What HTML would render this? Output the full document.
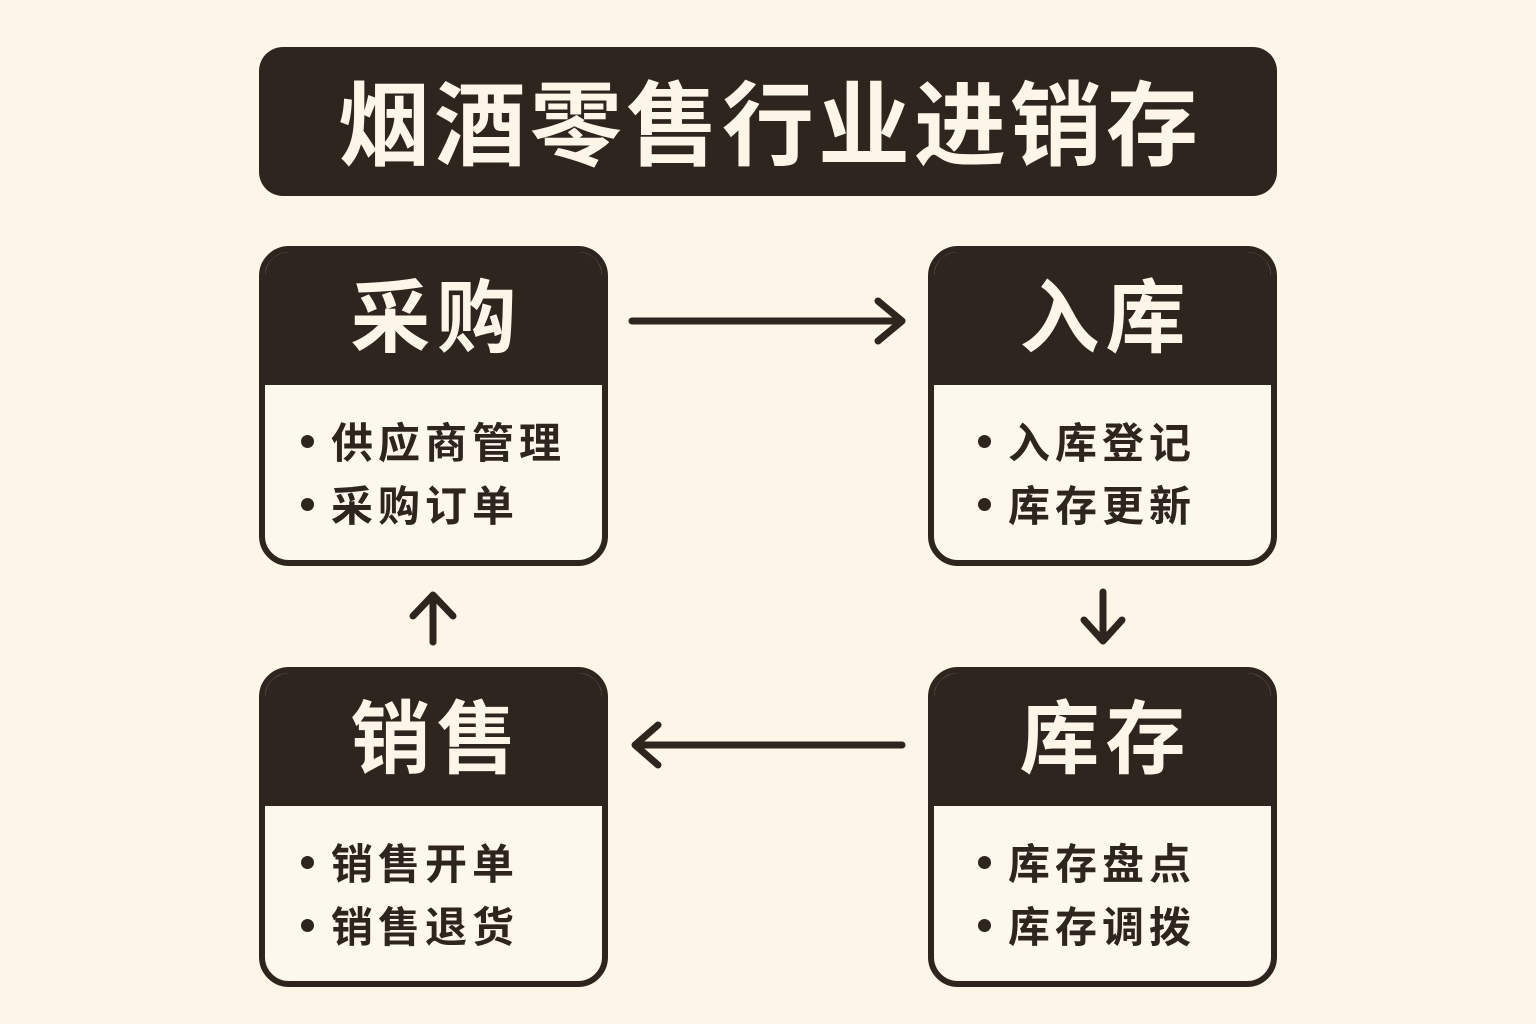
<!DOCTYPE html>
<html><head><meta charset="utf-8"><style>
body{margin:0;width:1536px;height:1024px;background:#fdf5e8;position:relative;overflow:hidden;font-family:"Liberation Sans","Noto Sans CJK SC",sans-serif;}
.title{position:absolute;left:259px;top:47px;width:1018px;height:149px;background:#2e251e;border-radius:24px;color:#fdf5e8;font-weight:700;font-size:92px;letter-spacing:4px;text-align:center;line-height:160px;text-indent:4px;}
.box{position:absolute;width:337px;height:308px;border:6px solid #2e251e;border-radius:30px;overflow:hidden;background:#fdf8ee;}
.hd{height:133px;background:#2e251e;color:#fdf5e8;font-weight:700;font-size:80px;line-height:133px;text-align:center;letter-spacing:6px;text-indent:6px;}
.it{position:absolute;left:36px;font-size:42px;font-weight:700;color:#2e251e;letter-spacing:5px;}
.r .it{left:44px;}
.it:before{content:"";display:inline-block;width:13px;height:13px;border-radius:50%;background:#2e251e;margin-right:17px;vertical-align:middle;position:relative;top:-5px;}
</style></head><body>
<div class="title">烟酒零售行业进销存</div>
<div class="box" style="left:259px;top:246px"><div class="hd">采购</div><div class="it" style="top:158px">供应商管理</div><div class="it" style="top:221px">采购订单</div></div>
<div class="box r" style="left:928px;top:246px"><div class="hd">入库</div><div class="it" style="top:158px">入库登记</div><div class="it" style="top:221px">库存更新</div></div>
<div class="box" style="left:259px;top:667px"><div class="hd">销售</div><div class="it" style="top:158px">销售开单</div><div class="it" style="top:221px">销售退货</div></div>
<div class="box r" style="left:928px;top:667px"><div class="hd">库存</div><div class="it" style="top:158px">库存盘点</div><div class="it" style="top:221px">库存调拨</div></div>
<svg width="1536" height="1024" style="position:absolute;left:0;top:0" fill="none" stroke="#2e251e" stroke-width="7" stroke-linecap="round" stroke-linejoin="round">
<path d="M632 321H900M878 301L902 321L878 341"/>
<path d="M1103 592V640M1084 620L1103 641L1122 620"/>
<path d="M902 745H637M658 725L635 745L658 765"/>
<path d="M433 642V596M413 616L433 595L453 616"/>
</svg>
</body></html>
